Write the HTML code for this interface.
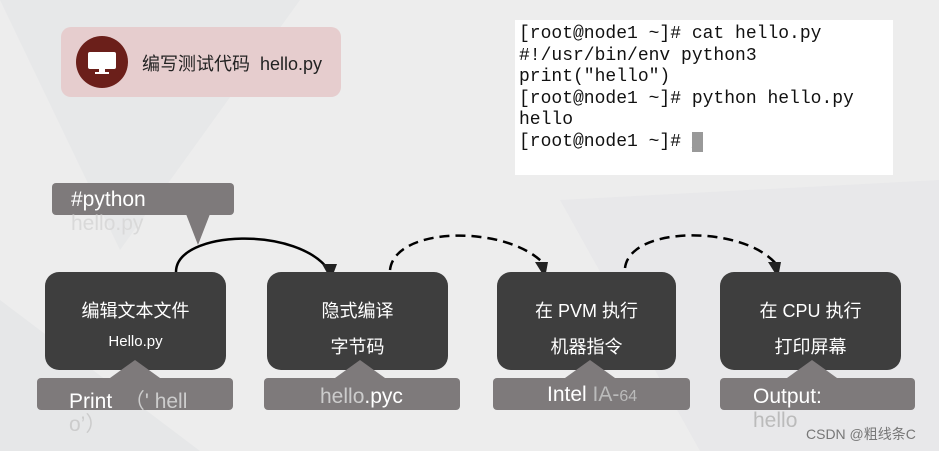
<!DOCTYPE html>
<html><head><meta charset="utf-8"><style>
body{margin:0;width:939px;height:451px;overflow:hidden;background:#ededed;position:relative;font-family:"Liberation Sans","Noto Sans CJK SC",sans-serif}
.a{position:absolute}
.box{position:absolute;background:#3e3e3e;border-radius:14px;color:#fff;text-align:center;font-size:18px}
.bar{position:absolute;background:#7e7a7b;border-radius:4px;height:32px}
.t{position:absolute;font-size:21px;color:#fff;white-space:nowrap}
.term{position:absolute;left:515px;top:20px;width:378px;height:155px;background:#fff;font-family:"Liberation Mono","DejaVu Sans Mono",monospace;font-size:18px;line-height:21.6px;color:#111;padding:4px 0 0 4px;box-sizing:border-box;white-space:pre}
</style></head><body>
<svg class="a" style="left:0;top:0" width="939" height="451">
<polygon points="0,0 300,0 120,250" fill="#e7e8e9"/>
<polygon points="560,200 939,180 939,451 700,451" fill="#e8e8ea"/>
<polygon points="0,300 200,451 0,451" fill="#e6e7e8"/>
<rect x="61" y="27" width="280" height="70" rx="10" fill="#e6cdce"/>
<circle cx="102" cy="62" r="26" fill="#6b1f1a"/>
<rect x="88" y="52" width="28" height="17" rx="2" fill="#fff"/>
<rect x="99" y="69" width="6" height="4" fill="#fff"/>
<rect x="95" y="72" width="14" height="2" fill="#fff"/>
<rect x="52" y="183" width="182" height="32" rx="4" fill="#7e7a7b"/>
<polygon points="186,214 210,214 198,245" fill="#7e7a7b"/>
<path d="M176,272 C176,230 300,225 330,272" fill="none" stroke="#000" stroke-width="2.5"/>
<polygon points="322,264 337,264 331,280" fill="#222"/>
<path d="M390,270 C395,225 510,225 545,265" fill="none" stroke="#000" stroke-width="2.5" stroke-dasharray="10,6"/>
<polygon points="535,262 548,262 545,278" fill="#222"/>
<path d="M625,268 C630,225 745,225 777,265" fill="none" stroke="#000" stroke-width="2.5" stroke-dasharray="10,6"/>
<polygon points="768,262 781,262 778,278" fill="#222"/>
</svg>
<div class="a" style="left:142px;top:50px;font-size:18px;color:#222">编写测试代码&nbsp; hello.py</div>
<div class="t" style="left:71px;top:188px">#python</div>
<div class="t" style="left:71px;top:212px;color:#d9d9d9">hello.py</div>
<div class="term">[root@node1 ~]# cat hello.py
#!/usr/bin/env python3
print("hello")
[root@node1 ~]# python hello.py
hello
[root@node1 ~]# <span style="background:#999;color:#999">_</span></div>

<div class="box" style="left:45px;top:272px;width:181px;height:98px"><div style="margin-top:25px">编辑文本文件</div><div style="margin-top:10px;font-size:15px">Hello.py</div></div>
<div class="box" style="left:267px;top:272px;width:181px;height:98px"><div style="margin-top:25px">隐式编译</div><div style="margin-top:10px">字节码</div></div>
<div class="box" style="left:497px;top:272px;width:179px;height:98px"><div style="margin-top:25px">在 PVM 执行</div><div style="margin-top:10px">机器指令</div></div>
<div class="box" style="left:720px;top:272px;width:181px;height:98px"><div style="margin-top:25px">在 CPU 执行</div><div style="margin-top:10px">打印屏幕</div></div>

<svg class="a" style="left:0;top:355px" width="939" height="30">
<polygon points="110,23 160,23 135,5" fill="#7e7a7b"/>
<polygon points="335,23 385,23 360,5" fill="#7e7a7b"/>
<polygon points="565,23 615,23 590,5" fill="#7e7a7b"/>
<polygon points="787,23 837,23 812,5" fill="#7e7a7b"/>
</svg>
<div class="bar" style="left:37px;top:378px;width:196px"></div>
<div class="bar" style="left:264px;top:378px;width:196px"></div>
<div class="bar" style="left:493px;top:378px;width:197px"></div>
<div class="bar" style="left:720px;top:378px;width:195px"></div>
<div class="t" style="left:69px;top:385px">Print <span style="color:#ccc">&nbsp;（' hell</span></div>
<div class="t" style="left:69px;top:408px;color:#ccc">o’）</div>
<div class="t" style="left:320px;top:385px"><span style="color:#ccc">hello</span>.pyc</div>
<div class="t" style="left:547px;top:383px">Intel <span style="color:#bbb">IA-<span style="font-size:16px">64</span></span></div>
<div class="t" style="left:753px;top:385px">Output:</div>
<div class="t" style="left:753px;top:409px;color:#bbb">hello</div>
<div class="a" style="left:806px;top:424px;font-size:14px;color:#777">CSDN @粗线条C</div>
</body></html>
